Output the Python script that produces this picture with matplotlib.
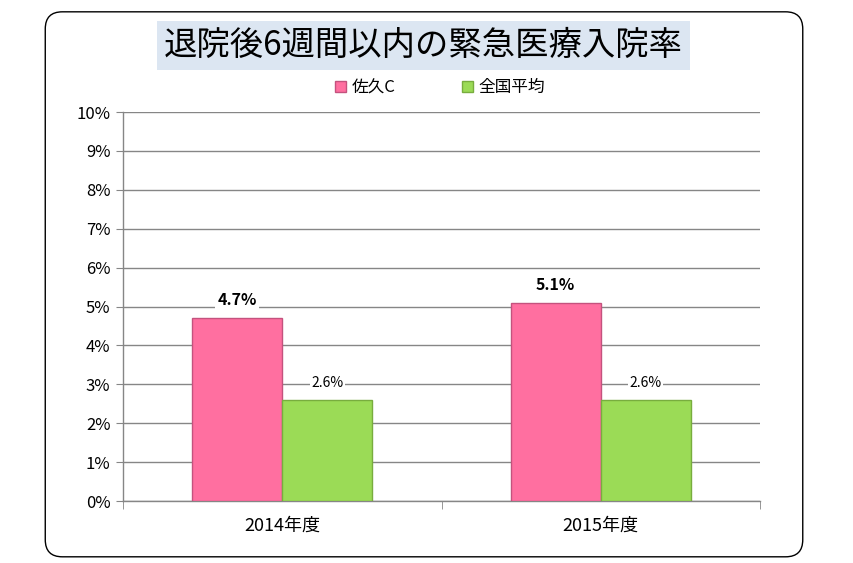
import matplotlib.pyplot as plt
from matplotlib.patches import FancyBboxPatch, Patch
import numpy as np

plt.rcParams['font.family'] = ['Noto Sans CJK JP', 'DejaVu Sans']

titulo = "退院後6週間以内の緊急医療入院率"
categorias = ["2014年度", "2015年度"]
series = ["佐久C", "全国平均"]
valores_saku = [4.7, 5.1]
valores_zenkoku = [2.6, 2.6]
colores = ["#FF6FA0", "#9BDB56"]
bordes = ["#C4527E", "#78AD3E"]

fig = plt.figure(figsize=(8.54, 5.63), dpi=100)

# marco redondeado
marco = FancyBboxPatch((0.053, 0.011), 0.887, 0.968, boxstyle="round,pad=0,rounding_size=0.02",
                       transform=fig.transFigure, facecolor="white", edgecolor="black",
                       linewidth=1.0, mutation_aspect=854 / 563, zorder=-5)
fig.patches.append(marco)

ax = fig.add_axes([0.144, 0.110, 0.746, 0.691])
ax.set_facecolor("none")

x = np.arange(len(categorias))
w = 0.283
b1 = ax.bar(x - w / 2, valores_saku, w, color=colores[0], edgecolor=bordes[0], linewidth=1.0, zorder=3)
b2 = ax.bar(x + w / 2, valores_zenkoku, w, color=colores[1], edgecolor=bordes[1], linewidth=1.0, zorder=3)

for rect, v in zip(b1, valores_saku):
    ax.annotate(f"{v:.1f}%", (rect.get_x() + rect.get_width() / 2, v), xytext=(0, 13),
                textcoords="offset points", ha="center", va="center", fontsize=11.5,
                fontweight="bold", zorder=5,
                bbox=dict(facecolor="white", edgecolor="none", pad=1.5))
for rect, v in zip(b2, valores_zenkoku):
    ax.annotate(f"{v:.1f}%", (rect.get_x() + rect.get_width() / 2, v), xytext=(0, 12),
                textcoords="offset points", ha="center", va="center", fontsize=10,
                zorder=5, bbox=dict(facecolor="white", edgecolor="none", pad=1.0))

ax.set_xlim(-0.5, 1.5)
ax.set_ylim(0, 10)
ax.set_yticks(np.arange(0, 11, 1))
ax.set_yticklabels([f"{i}%" for i in range(11)], fontsize=12)
ax.set_xticks(x)
ax.set_xticklabels(categorias, fontsize=13)
ax.set_xticks([-0.5, 0.5, 1.5], minor=True)
ax.tick_params(axis="x", which="major", length=0, pad=11)
ax.tick_params(axis="x", which="minor", length=6, color="#868686")
ax.tick_params(axis="y", length=5, color="#868686", pad=4)
ax.yaxis.grid(True, color="#868686", linewidth=1.0, zorder=0)
ax.set_axisbelow(True)
for s in ["top", "right"]:
    ax.spines[s].set_visible(False)
for s in ["left", "bottom"]:
    ax.spines[s].set_color("#868686")
    ax.spines[s].set_linewidth(1.0)

fig.text(0.496, 0.920, titulo, ha="center", va="center", fontsize=24,
         bbox=dict(facecolor="#DCE6F2", edgecolor="none", pad=5))

manijas = [Patch(facecolor=colores[0], edgecolor=bordes[0]),
           Patch(facecolor=colores[1], edgecolor=bordes[1])]
fig.legend(manijas, series, loc="center", bbox_to_anchor=(0.515, 0.844), ncol=2,
           frameon=False, fontsize=12, handlelength=0.7, handleheight=0.7,
           handletextpad=0.3, columnspacing=4.0)

plt.savefig("out.png", dpi=100)
